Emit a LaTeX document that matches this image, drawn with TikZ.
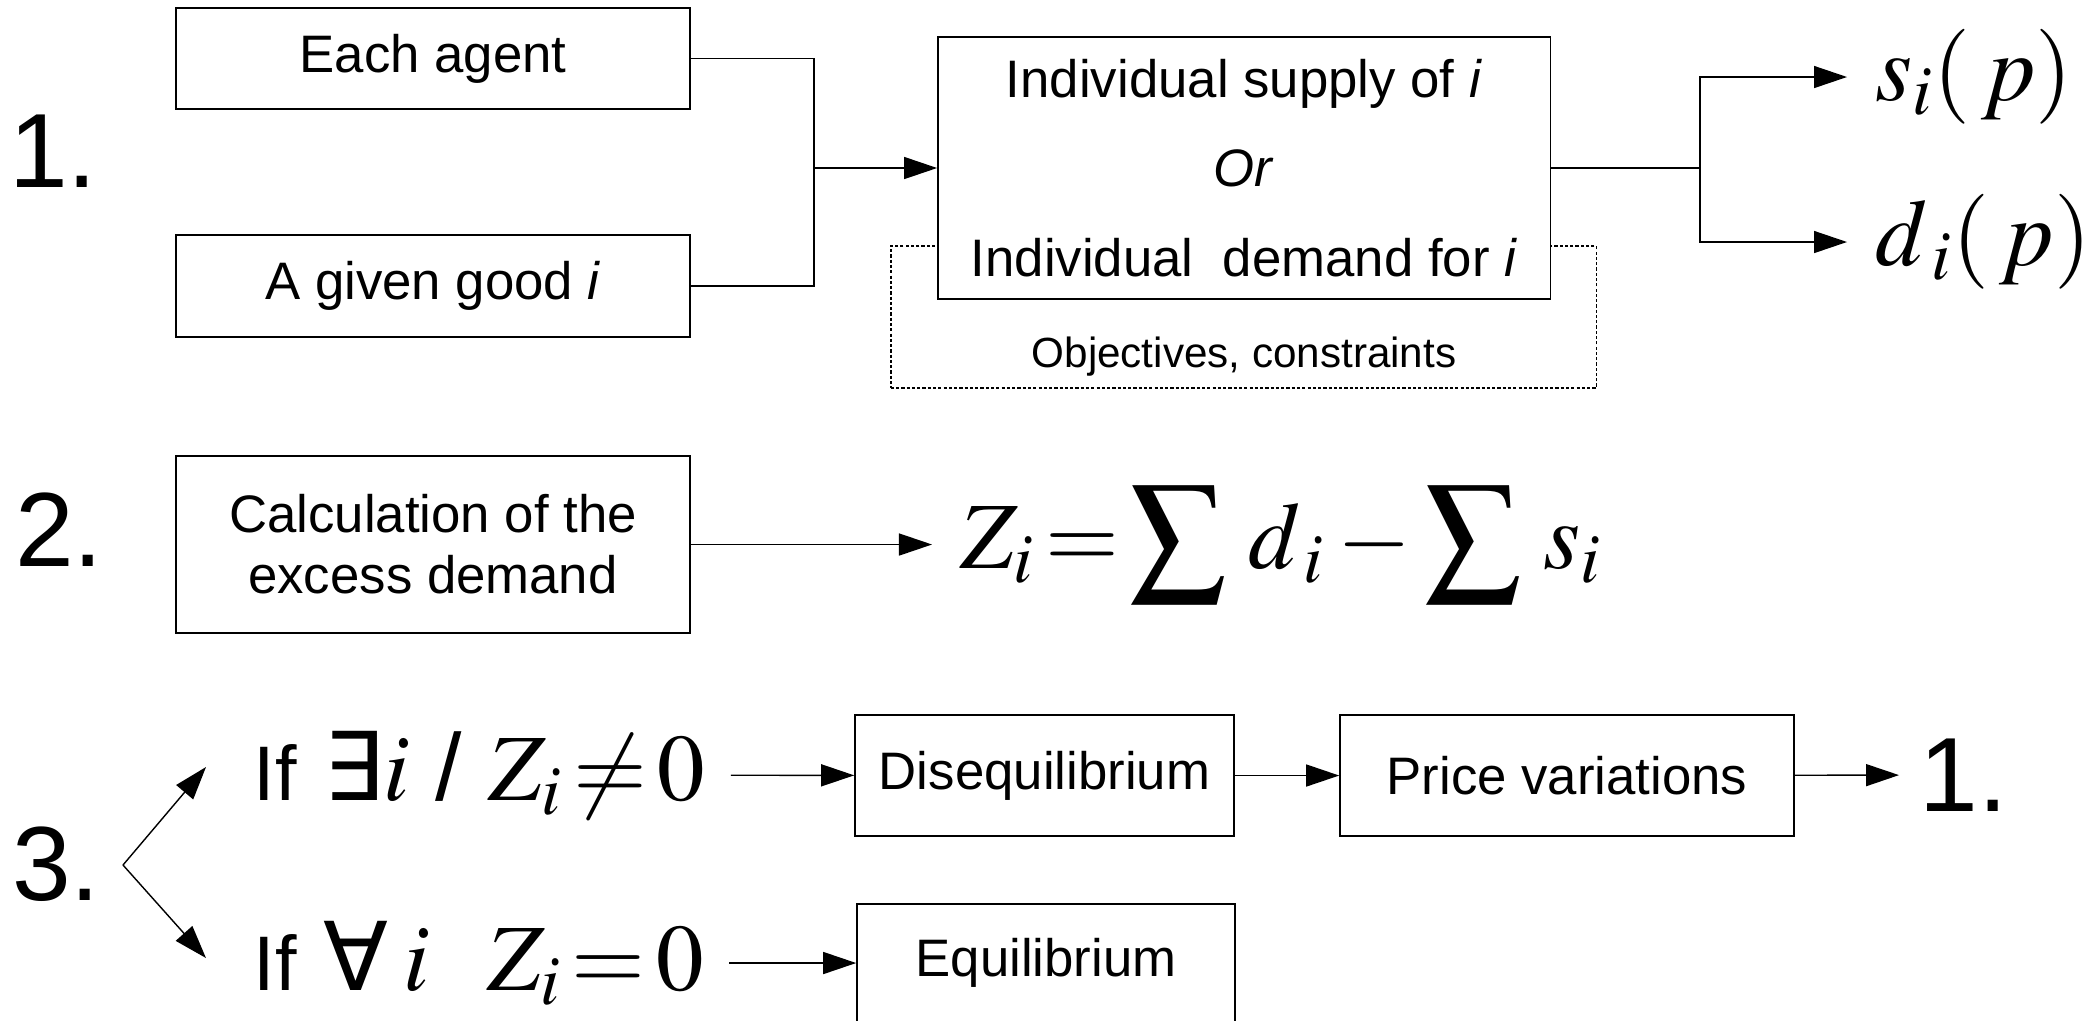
\documentclass[tikz,border=0pt]{standalone}
\usepackage{mathptmx}
\usepackage[no-math]{fontspec}
\setmainfont{Liberation Sans}
\newfontfamily\symbfont{DejaVu Sans}
\usetikzlibrary{arrows.meta}

\newcommand{\boxsize}{\fontsize{15}{17.3}\selectfont}
\newcommand{\numsize}{\fontsize{30}{36}\selectfont}
\newcommand{\fmlsize}{\fontsize{27}{32}\selectfont}
\newcommand{\ifsize}{\fontsize{22}{26}\selectfont}

\tikzset{
  box/.style={draw, rectangle, fill=white, font=\boxsize, align=center, inner sep=0pt},
  num/.style={font=\numsize, inner sep=0pt},
  fml/.style={font=\fmlsize, inner xsep=0.28cm, inner ysep=0pt},
  goalbox/.style={draw, dash pattern=on 0.9pt off 0.6pt},
}

\begin{document}
\begin{tikzpicture}[x=0.01cm, y=-0.01cm, >={Triangle[length=0.33cm, width=0.22cm]}]
\useasboundingbox (0,0) rectangle (2086,1020);

% step 1: individual behaviour
\node[num] (one) at (53,151) {1.};
\node[box, minimum width=5.14cm, minimum height=1.01cm] (agent) at (433,58.5) {Each agent};
\node[box, minimum width=5.14cm, minimum height=1.02cm] (good) at (433,286) {A given good \textit{i}};
\node[goalbox, minimum width=7.05cm, minimum height=1.42cm] (goals) at (1243.5,317) {};
\node[font=\fontsize{12}{14}\selectfont] (goalstext) at (1244,357) {Objectives, constraints};
\node[box, font=\fontsize{15}{25.5}\selectfont, minimum width=6.12cm, minimum height=2.62cm] (supply) at (1244,168) {Individual supply of \textit{i}\\ \textit{Or}\\ Individual~ demand for \textit{i}};
\node[fml, anchor=west] (si) at (1847,77) {$s_i(\,p)$};
\node[fml, anchor=west] (di) at (1847,242) {$d_{\,i}(\,p)$};
\coordinate (merge) at (814,168);
\coordinate (split) at (1700,168);

\draw (agent.east) -| (merge) |- (good.east);
\draw[->] (merge) -- (supply.west);
\draw (supply.east) -- (split);
\draw[->] (split) |- (si.west);
\draw[->] (split) |- (di.west);

% step 2: excess demand
\node[num] (two) at (59,530) {2.};
\node[box, minimum width=5.14cm, minimum height=1.77cm] (calc) at (433,544.5) {Calculation of the\\excess demand};
\node[fml, anchor=west] (zi) at (932,544.5) {$\displaystyle Z_i\!=\!\sum\,d_{\,i}-\sum\,s_i$};
\draw[->] (calc) -- (zi);

% step 3: equilibrium test
\node[num] (three) at (56,864) {3.};
\coordinate (fork) at (123,865);
\coordinate (upTip) at (206,767);
\coordinate (downTip) at (206,958);
\node[fml, anchor=west, inner xsep=0.25cm] (ifexists) at (228,775) {{\ifsize If} {\symbfont ∃}$i$ / $Z_i\!\neq\!0$};
\node[fml, anchor=west, inner xsep=0.25cm] (ifall) at (228,963) {{\ifsize If} {\symbfont ∀}\,$i$\hspace{0.6em}$Z_i\!=\!0$};
\node[box, minimum width=3.79cm, minimum height=1.21cm] (diseq) at (1044.5,775.5) {Disequilibrium};
\node[box, minimum width=4.54cm, minimum height=1.21cm] (price) at (1567,775.5) {Price variations};
\node[box, minimum width=3.78cm, minimum height=1.18cm] (equil) at (1046,963) {Equilibrium};
\node[num, anchor=west, inner xsep=0.2cm] (back) at (1899,775) {1.};

\draw[->] (fork) -- (upTip);
\draw[->] (fork) -- (downTip);
\draw[->] (ifexists) -- (diseq);
\draw[->] (ifall) -- (equil);
\draw[->] (diseq) -- (price);
\draw[->] (price) -- (back);
\end{tikzpicture}
\end{document}
